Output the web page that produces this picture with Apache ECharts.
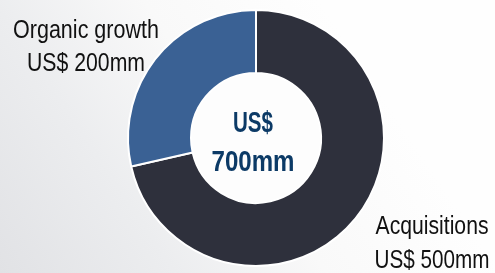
<!DOCTYPE html>
<html><head><meta charset="utf-8">
<script src="https://cdn.jsdelivr.net/npm/echarts@6/dist/echarts.min.js"></script>
<style>html,body{margin:0;padding:0;}#c{width:495px;height:273px;}</style>
</head><body><div id="c"></div>
<script>
const categories = ['Acquisitions', 'Organic growth'];
const values = [500, 200];
const valueLabels = ['US$ 500mm', 'US$ 200mm'];
const totalLabel = ['US$', '700mm'];
const colors = ['#2e303c', '#3a6194'];

const FONT = "'Liberation Sans', Arial, sans-serif";
// layout (positions / target widths of the condensed label text)
const labelLayoutInfo = [
  {x: 432, y: [227, 261], w: [113, 115]},
  {x: 86, y: [31, 64], w: [146, 118]}
];
const centerLayout = {x: 253, y: [124, 162.5], w: [40, 83]};

const ctx = document.createElement('canvas').getContext('2d');
function measure(text, font) { ctx.font = font; return ctx.measureText(text).width; }

function textEl(text, x, y, font, targetW, color) {
  const s = targetW / measure(text, font);
  return {
    type: 'text', x: x, y: y, scaleX: s, z: 100,
    style: {text: text, font: font, fill: color, textAlign: 'center', textVerticalAlign: 'middle'}
  };
}

const graphics = [{
  type: 'circle', shape: {cx: 256, cy: 138, r: 66}, z: 0,
  style: {fill: '#fdfdfd'}
}];
categories.forEach((c, i) => {
  const L = labelLayoutInfo[i];
  const f = "26px " + FONT;
  graphics.push(textEl(c, L.x, L.y[0], f, L.w[0], '#111111'));
  graphics.push(textEl(valueLabels[i], L.x, L.y[1], f, L.w[1], '#111111'));
});
totalLabel.forEach((t, i) => {
  graphics.push(textEl(t, centerLayout.x, centerLayout.y[i], "bold 29px " + FONT, centerLayout.w[i], '#0c3a66'));
});

const chart = echarts.init(document.getElementById('c'), null, {renderer: 'canvas'});
chart.setOption({
  animation: false,
  backgroundColor: {
    type: 'linear', x: 0, y: 1, x2: 0.7, y2: 0.15,
    colorStops: [
      {offset: 0, color: '#e1e2e5'},
      {offset: 0.35, color: '#ecedef'},
      {offset: 0.65, color: '#f9f9f9'},
      {offset: 1, color: '#fefefe'}
    ]
  },
  series: [{
    type: 'pie',
    center: [256, 138],
    radius: [65, 128],
    startAngle: 90,
    clockwise: true,
    silent: true,
    z: 2,
    itemStyle: {borderColor: '#ffffff', borderWidth: 2},
    label: {show: false},
    labelLine: {show: false},
    data: categories.map((c, i) => ({name: c, value: values[i], itemStyle: {color: colors[i]}}))
  }],
  graphic: graphics
});
</script></body></html>
